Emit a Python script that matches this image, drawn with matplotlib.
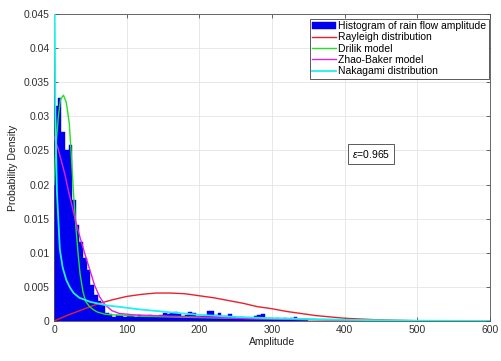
import numpy as np
import matplotlib
matplotlib.use("Agg")
import matplotlib.pyplot as plt

plt.rcParams['font.family'] = ['Liberation Sans', 'DejaVu Sans']
plt.rcParams['mathtext.fontset'] = 'custom'
plt.rcParams['mathtext.rm'] = 'Liberation Sans'
plt.rcParams['mathtext.it'] = 'Liberation Sans:italic'

# ---- data ----
bin_width = 5
hist_heights = [0.0315, 0.0327, 0.0277, 0.0250, 0.0258, 0.0177, 0.0141, 0.0116, 0.0092, 0.0075,
                0.0053, 0.0038, 0.0030, 0.0023, 0.0012, 0.0010, 0.0006, 0.0009, 0.0009, 0.0006,
                0.0009, 0.0008, 0.0006, 0.0009, 0.0008, 0.0006, 0.0009, 0.0007, 0.0008, 0.0009,
                0.0011, 0.0010, 0.0012, 0.0013, 0.0010, 0.0008, 0.0009, 0.0013, 0.0012, 0.0008,
                0.0007, 0.0009, 0.0014, 0.0015, 0.0009, 0.0011, 0.0008, 0.0007, 0.0010, 0.0006,
                0.0005, 0.0006, 0.0004, 0.0005, 0.0004, 0.0007, 0.0009, 0.0010, 0.0005, 0.0004,
                0.0003, 0.0005, 0.0003, 0.0004, 0.0003, 0.0005, 0.0006, 0.0003, 0.0002, 0.0002]
hist_left = [i * bin_width for i in range(len(hist_heights))]

rayleigh_x = [0, 20, 40, 60, 80, 100, 120, 140, 160, 180, 200, 220, 240, 260, 280, 300, 320,
              340, 360, 380, 400, 420, 440, 460, 480, 500, 540, 600]
rayleigh_y = [0, 0.0009, 0.0017, 0.0025, 0.0031, 0.0036, 0.0039, 0.0041, 0.0041, 0.0040, 0.0037,
              0.0034, 0.0030, 0.0026, 0.0021, 0.0018, 0.0014, 0.0011, 0.0008, 0.0006, 0.0004,
              0.0003, 0.0002, 0.00012, 0.00007, 0.00004, 0.00001, 0]

drilik_x = [0, 3, 6, 9, 13, 17, 21, 24, 27, 30, 33, 36, 40, 44, 49, 55, 60, 70, 80, 100, 120,
            160, 200, 250, 300, 350, 400, 450, 500, 600]
drilik_y = [0.020, 0.026, 0.030, 0.0325, 0.0331, 0.0320, 0.0290, 0.0240, 0.0185, 0.0140, 0.0100,
            0.0068, 0.0042, 0.0028, 0.0021, 0.0016, 0.0013, 0.0010, 0.0009, 0.0008, 0.0007,
            0.0006, 0.0005, 0.0004, 0.0003, 0.0002, 0.00012, 0.00007, 0.00004, 0.00001]

zhao_x = [0, 5, 10, 15, 20, 25, 30, 36, 42, 49, 56, 63, 70, 80, 90, 110, 160, 200, 250, 300,
          400, 500, 600]
zhao_y = [0.027, 0.0255, 0.0235, 0.0215, 0.0190, 0.0168, 0.0145, 0.0122, 0.0100, 0.0076, 0.0052,
          0.0035, 0.0024, 0.0015, 0.0011, 0.0009, 0.0007, 0.0006, 0.0004, 0.0003, 0.00012,
          0.00004, 0.00001]

naka_x = [0.3, 1, 2, 4, 8, 12, 17, 22, 27, 35, 50, 72, 88, 118, 157, 200, 250, 300, 350, 400,
          450, 500, 600]
naka_y = [0.060, 0.045, 0.030, 0.019, 0.0105, 0.0078, 0.0060, 0.0049, 0.0041, 0.0034, 0.0028,
          0.0023, 0.0021, 0.0017, 0.0013, 0.0009, 0.0006, 0.0004, 0.0003, 0.00018, 0.0001,
          0.00005, 0.00001]

x_ticks = [0, 100, 200, 300, 400, 500, 600]
y_ticks = [0, 0.005, 0.01, 0.015, 0.02, 0.025, 0.03, 0.035, 0.04, 0.045]
y_tick_labels = ['0', '0.005', '0.01', '0.015', '0.02', '0.025', '0.03', '0.035', '0.04', '0.045']
legend_labels = ['Histogram of rain flow amplitude', 'Rayleigh distribution', 'Drilik model',
                 'Zhao-Baker model', 'Nakagami distribution']
annotation = r'$\epsilon$=0.965'

# ---- figure ----
fig = plt.figure(figsize=(5.01, 3.61), dpi=100)
ax = fig.add_axes([54/501, 40/361, 436/501, 307/361])

h0 = ax.bar(hist_left, hist_heights, width=bin_width, align='edge', color='#0000f0',
            edgecolor='#0000f0', linewidth=0.3, zorder=2)
h1, = ax.plot(rayleigh_x, rayleigh_y, color='#e8202a', lw=1.0, zorder=3)
h2, = ax.plot(drilik_x, drilik_y, color='#22e022', lw=1.0, zorder=3)
h3, = ax.plot(zhao_x, zhao_y, color='#e020e0', lw=1.0, zorder=3)
h4, = ax.plot(naka_x, naka_y, color='#20f0f0', lw=1.3, zorder=3)

ax.set_xlim(0, 600)
ax.set_ylim(0, 0.045)
ax.set_xticks(x_ticks)
ax.set_yticks(y_ticks)
ax.set_yticklabels(y_tick_labels)
ax.tick_params(direction='in', length=3, width=0.5, labelsize=7.5, colors='#303030',
               top=True, right=True, pad=3)
ax.grid(True, color='#e4e4e4', lw=0.6, zorder=0)
ax.set_axisbelow(True)
for s in ax.spines.values():
    s.set_color('#505050')
    s.set_linewidth(0.6)

ax.set_xlabel('Amplitude', fontsize=7.5, color='#202020', labelpad=1)
ax.set_ylabel('Probability Density', fontsize=7.5, color='#202020', labelpad=4)

leg = ax.legend([h0, h1, h2, h3, h4], legend_labels, loc='upper right',
                bbox_to_anchor=(0.9977, 0.985), borderaxespad=0,
                fontsize=7.5, frameon=True, fancybox=False, framealpha=1,
                edgecolor='#404040', labelspacing=0.12, handlelength=2.3,
                handletextpad=0.2, borderpad=0.25)
leg.get_frame().set_linewidth(0.6)

ax.text(410, 0.0245, annotation, fontsize=7.5, va='center', ha='left',
        bbox=dict(boxstyle='square,pad=0.35', fc='white', ec='#404040', lw=0.6), zorder=5)

fig.savefig('out.png', dpi=100, facecolor='white')
